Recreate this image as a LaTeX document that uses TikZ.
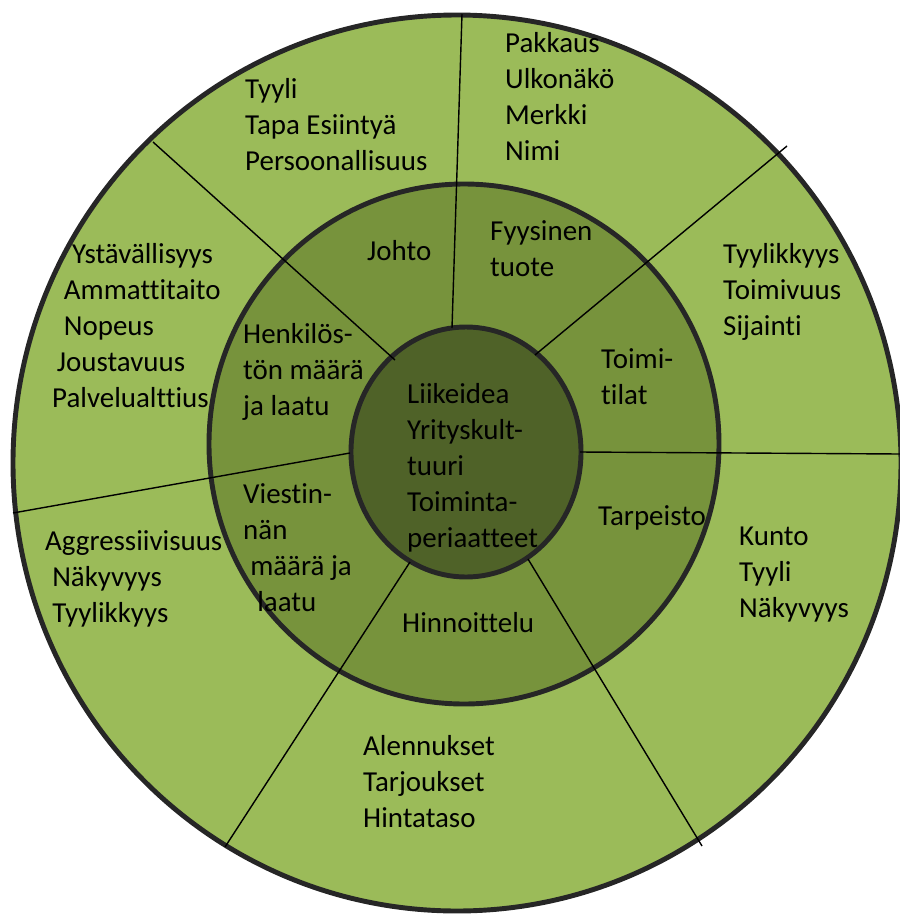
\documentclass[tikz,border=0pt]{standalone}
\usepackage{fontspec}
\setmainfont{Carlito}[Ligatures=NoCommon]
\definecolor{outergreen}{HTML}{9BBB59}
\definecolor{midgreen}{HTML}{77933C}
\definecolor{coregreen}{HTML}{4F6228}
\definecolor{ringline}{HTML}{262626}
\tikzset{
  ring/.style={draw=ringline, line width=4.2pt},
  divider/.style={black, line width=1.2pt},
  words/.style={anchor=base west, inner sep=0pt, align=left,
    font=\fontsize{24.7pt}{30.7pt}\selectfont}
}
\begin{document}
\begin{tikzpicture}[x=0.03cm, y=-0.03cm]
  \clip (0,0) rectangle (900,914);
  % Rings
  \draw[ring, fill=outergreen] (457,463) ellipse [x radius=444, y radius=448];
  \draw[ring, fill=midgreen] (464,444) ellipse [x radius=255, y radius=260];
  \draw[ring, fill=coregreen] (466,452) ellipse [x radius=115, y radius=125];
  % Sector lines
  \draw[divider] (462,14) -- (452,328);
  \draw[divider] (535,355) -- (787,146);
  \draw[divider] (580,452) -- (900,454);
  \draw[divider] (528,559) -- (702,846);
  \draw[divider] (410,562) -- (225,847);
  \draw[divider] (350,453) -- (13,513);
  \draw[divider] (395,360) -- (153,142);
  % Core (anchored at the last line)
  \node[words] (core) at (407,547) {Liikeidea\\Yrityskult-\\tuuri\\Toiminta-\\periaatteet};
  % Middle ring
  \node[words] (johto) at (367,260) {Johto};
  \node[words] (tuote) at (490,276) {Fyysinen\\tuote};
  \node[words] (tilat) at (601,404) {Toimi-\\tilat};
  \node[words] (tarpeisto) at (598,525) {Tarpeisto};
  \node[words] (hinta) at (402,632) {Hinnoittelu};
  \node[words] (viestinta) at (243,611) {Viestin-\\nän\\\hspace*{6pt}määrä ja\\\hspace*{12pt}laatu};
  \node[words] (henkilosto) at (243,415) {Henkilös-\\tön määrä\\ja laatu};
  % Outer ring
  \node[words] (tyyli) at (245,170) {Tyyli\\Tapa Esiintyä\\Persoonallisuus};
  \node[words] (pakkaus) at (505,160) {Pakkaus\\Ulkonäkö\\Merkki\\Nimi};
  \node[words] (sijainti) at (723,335) {Tyylikkyys\\Toimivuus\\Sijainti};
  \node[words] (kunto) at (739,617) {Kunto\\Tyyli\\Näkyvyys};
  \node[words] (alennus) at (363,827) {Alennukset\\Tarjoukset\\Hintataso};
  \node[words] (mainonta) at (45,622) {Aggressiivisuus\\\hspace*{6pt}Näkyvyys\\\hspace*{6pt}Tyylikkyys};
  \node[words] (palvelu) at (52,407) {\hspace*{17pt}Ystävällisyys\\\hspace*{10pt}Ammattitaito\\\hspace*{10pt}Nopeus\\\hspace*{4pt}Joustavuus\\Palvelualttius};
\end{tikzpicture}
\end{document}
